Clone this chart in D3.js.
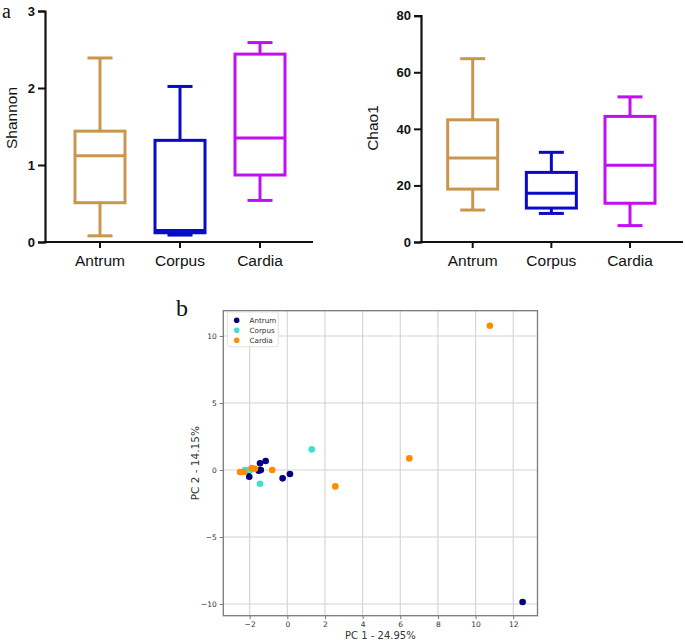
<!DOCTYPE html>
<html><head><meta charset="utf-8">
<script src="https://cdn.jsdelivr.net/npm/d3@7"></script>
<style>body{margin:0;background:#fff}svg{display:block}</style>
</head><body>
<svg id="c" width="685" height="641"></svg>
<script>
// ---- Data ----
const categories = ["Antrum", "Corpus", "Cardia"];
const boxColors = ["#C9964E", "#0A0AC8", "#C010F0"];
// [min, q1, median, q3, max]
const shannonStats = [
  [0.08, 0.51, 1.12, 1.44, 2.39],
  [0.09, 0.12, 0.15, 1.32, 2.02],
  [0.54, 0.87, 1.35, 2.44, 2.59]
];
const shannonTicks = [0, 1, 2, 3];
const chaoStats = [
  [11.3, 18.7, 29.7, 43.2, 64.8],
  [10.1, 12.0, 17.2, 24.6, 31.7],
  [5.8, 13.7, 27.1, 44.4, 51.3]
];
const chaoTicks = [0, 20, 40, 60, 80];

const pcaGroups = ["Antrum", "Corpus", "Cardia"];
const pcaColors = ["navy", "turquoise", "darkorange"];
const antrumPC1 = [-1.15, -1.45, -1.52, -1.41, -2.02, -0.25, 0.14, 12.5, -2.05];
const antrumPC2 = [0.67, 0.5, -0.05, 0.0, -0.5, -0.62, -0.3, -9.85, -0.05];
const corpusPC1 = [1.30, -1.45, -2.25, -2.12, -1.95];
const corpusPC2 = [1.54, -1.02, 0.0, 0.0, 0.0];
const cardiaPC1 = [10.76, 6.48, 2.55, -0.8, -1.89, -1.72, -2.51, -2.30];
const cardiaPC2 = [10.77, 0.87, -1.22, 0.0, 0.15, 0.1, -0.15, -0.15];
const pcXTicks = [-2, 0, 2, 4, 6, 8, 10, 12];
const pcYTicks = [-10, -5, 0, 5, 10];

const svg = d3.select("#c");
const sans = "Liberation Sans, Arial, sans-serif";

// ---- Box plot helper ----
function boxPlot(cfg) {
  const g = svg.append("g");
  const y = d3.scaleLinear().domain(cfg.ydomain).range([cfg.y0, cfg.y1]);
  const x = d3.scalePoint().domain(categories).range([cfg.cx0, cfg.cx1]);
  const ya = g.append("g").attr("transform", `translate(${cfg.ax},0)`)
    .call(d3.axisLeft(y).tickValues(cfg.ticks).tickSize(7).tickPadding(3).tickFormat(d3.format("d")));
  ya.select(".domain").attr("stroke", "#111").attr("stroke-width", 2.2);
  ya.selectAll(".tick line").attr("stroke", "#111").attr("stroke-width", 2);
  ya.selectAll("text").attr("font-family", sans).attr("font-weight", "bold").attr("font-size", 13).attr("fill", "#111");
  g.append("line").attr("x1", cfg.ax - 1).attr("x2", cfg.axEnd).attr("y1", cfg.y0).attr("y2", cfg.y0)
    .attr("stroke", "#111").attr("stroke-width", 2.2);
  categories.forEach(c => {
    g.append("line").attr("x1", x(c)).attr("x2", x(c)).attr("y1", cfg.y0).attr("y2", cfg.y0 + 6)
      .attr("stroke", "#111").attr("stroke-width", 2);
    g.append("text").attr("x", x(c)).attr("y", cfg.y0 + 24).attr("text-anchor", "middle")
      .attr("font-family", sans).attr("font-size", 15.5).attr("fill", "#111").text(c);
  });
  g.append("text").attr("transform", `translate(${cfg.lx},${cfg.ly}) rotate(-90)`)
    .attr("text-anchor", "middle").attr("font-family", sans).attr("font-size", 15.5).attr("fill", "#111").text(cfg.label);
  const bw = cfg.bw, cw = bw / 2;
  cfg.stats.forEach((s, i) => {
    const cx = x(categories[i]), col = boxColors[i];
    const gg = g.append("g").attr("stroke", col).attr("stroke-width", 3).attr("fill", "none");
    gg.append("line").attr("x1", cx).attr("x2", cx).attr("y1", y(s[4])).attr("y2", y(s[3]));
    gg.append("line").attr("x1", cx).attr("x2", cx).attr("y1", y(s[1])).attr("y2", y(s[0]));
    gg.append("line").attr("x1", cx - cw / 2).attr("x2", cx + cw / 2).attr("y1", y(s[4])).attr("y2", y(s[4]));
    gg.append("line").attr("x1", cx - cw / 2).attr("x2", cx + cw / 2).attr("y1", y(s[0])).attr("y2", y(s[0]));
    gg.append("rect").attr("x", cx - bw / 2).attr("y", y(s[3])).attr("width", bw).attr("height", y(s[1]) - y(s[3]));
    gg.append("line").attr("x1", cx - bw / 2).attr("x2", cx + bw / 2).attr("y1", y(s[2])).attr("y2", y(s[2]));
  });
}

boxPlot({ydomain: [0, 3], y0: 242, y1: 11, ax: 45, axEnd: 313, cx0: 100, cx1: 260, bw: 50,
  ticks: shannonTicks, stats: shannonStats, label: "Shannon", lx: 17, ly: 118});
boxPlot({ydomain: [0, 80], y0: 242, y1: 15.7, ax: 421, axEnd: 683, cx0: 472.7, cx1: 630, bw: 50,
  ticks: chaoTicks, stats: chaoStats, label: "Chao1", lx: 378, ly: 128});

svg.append("text").attr("x", 2).attr("y", 18).attr("font-family", "Liberation Serif, Times New Roman, serif")
  .attr("font-size", 20).attr("fill", "#111").text("a");

// ---- PCA scatter ----
const L = 223.3, R = 537.5, T = 310.7, B = 615.7;
const px = d3.scaleLinear().domain([-3.4, 13.29]).range([L, R]);
const py = d3.scaleLinear().domain([-10.87, 11.89]).range([B, T]);
const sg = svg.append("g");
const tickFont = "DejaVu Sans, sans-serif";
sg.selectAll(".gx").data(pcXTicks).enter().append("line")
  .attr("x1", d => px(d)).attr("x2", d => px(d)).attr("y1", T).attr("y2", B)
  .attr("stroke", "#d4d4d4").attr("stroke-width", 1.1);
sg.selectAll(".gy").data(pcYTicks).enter().append("line")
  .attr("x1", L).attr("x2", R).attr("y1", d => py(d)).attr("y2", d => py(d))
  .attr("stroke", "#d4d4d4").attr("stroke-width", 1.1);
const xa = sg.append("g").attr("transform", `translate(0,${B})`)
  .call(d3.axisBottom(px).tickValues(pcXTicks).tickSize(3.5).tickPadding(2).tickFormat(d => d < 0 ? "\u2212" + Math.abs(d) : d));
const yaS = sg.append("g").attr("transform", `translate(${L},0)`)
  .call(d3.axisLeft(py).tickValues(pcYTicks).tickSize(3.5).tickPadding(3).tickFormat(d => d < 0 ? "\u2212" + Math.abs(d) : d));
[xa, yaS].forEach(a => {
  a.select(".domain").remove();
  a.selectAll(".tick line").attr("stroke", "#555").attr("stroke-width", 0.8);
  a.selectAll("text").attr("font-family", tickFont).attr("font-size", 7.5).attr("fill", "#333");
});
sg.append("rect").attr("x", L).attr("y", T).attr("width", R - L).attr("height", B - T)
  .attr("fill", "none").attr("stroke", "#7a7a7a").attr("stroke-width", 1.3);
const groups = [[antrumPC1, antrumPC2], [corpusPC1, corpusPC2], [cardiaPC1, cardiaPC2]];
groups.forEach((gp, i) => {
  sg.selectAll(null).data(gp[0].map((v, j) => [v, gp[1][j]])).enter().append("circle")
    .attr("cx", d => px(d[0])).attr("cy", d => py(d[1])).attr("r", 3.3).attr("fill", pcaColors[i]);
});
const lg = sg.append("g");
lg.append("rect").attr("x", 227.3).attr("y", 311.9).attr("width", 51).attr("height", 34.8).attr("rx", 2)
  .attr("fill", "#fff").attr("fill-opacity", 0.85).attr("stroke", "#d8d8d8").attr("stroke-width", 0.8);
pcaGroups.forEach((n, i) => {
  const yy = 320.3 + i * 10;
  lg.append("circle").attr("cx", 236.7).attr("cy", yy).attr("r", 2.8).attr("fill", pcaColors[i]);
  lg.append("text").attr("x", 249.5).attr("y", yy + 2.6).attr("font-family", tickFont).attr("font-size", 7.2)
    .attr("fill", "#333").text(n);
});
sg.append("text").attr("x", (L + R) / 2).attr("y", 639).attr("text-anchor", "middle")
  .attr("font-family", tickFont).attr("font-size", 10).attr("fill", "#333").text("PC 1 - 24.95%");
sg.append("text").attr("transform", `translate(199,${(T + B) / 2}) rotate(-90)`).attr("text-anchor", "middle")
  .attr("font-family", tickFont).attr("font-size", 10.5).attr("fill", "#333").text("PC 2 - 14.15%");
svg.append("text").attr("x", 176).attr("y", 316).attr("font-family", "Liberation Serif, Times New Roman, serif")
  .attr("font-size", 24).attr("fill", "#111").text("b");
</script>
</body></html>
